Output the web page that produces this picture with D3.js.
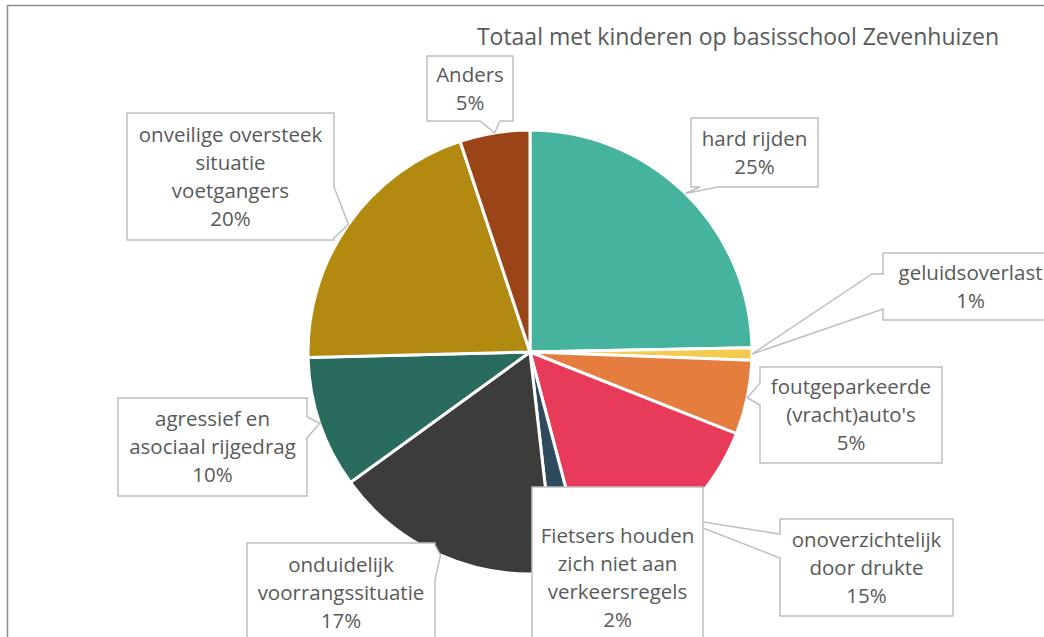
<!DOCTYPE html>
<html>
<head>
<meta charset="utf-8">
<script src="https://cdn.jsdelivr.net/npm/d3@7"></script>
<style>
  body { margin: 0; background: #fff; }
  svg { display: block; }
  text { font-family: "Open Sans", Lato, sans-serif; fill: #595959; }
</style>
</head>
<body>
<div id="chart"></div>
<script>
// Data
const categories = ['hard rijden', 'geluidsoverlast', "foutgeparkeerde (vracht)auto's",
    'onoverzichtelijk door drukte', 'Fietsers houden zich niet aan verkeersregels',
    'onduidelijk voorrangssituatie', 'agressief en asociaal rijgedrag',
    'onveilige oversteek situatie voetgangers', 'Anders'];
const values = [24.7, 0.9, 5.4, 14.9, 2.3, 16.8, 9.6, 20.3, 5.1];
const labelLines = [
    ['hard rijden'],
    ['geluidsoverlast'],
    ['foutgeparkeerde', "(vracht)auto's"],
    ['onoverzichtelijk', 'door drukte'],
    ['Fietsers houden', 'zich niet aan', 'verkeersregels'],
    ['onduidelijk', 'voorrangssituatie'],
    ['agressief en', 'asociaal rijgedrag'],
    ['onveilige oversteek', 'situatie', 'voetgangers'],
    ['Anders']
];
const colors = ['#46B39E', '#F2CB4F', '#E47D3E', '#E83A59', '#2E4A5C',
    '#3C3C3A', '#296B5E', '#B28A10', '#9A4418'];
const title = 'Totaal met kinderen op basisschool Zevenhuizen';

const width = 1044, height = 637;
const cx = 530, cy = 352, radius = 222;

// Label box layout (manual placement, like the original)
const boxes = [
    { x: 691, y: 118, w: 127, h: 69, side: 'bottom', b: [700, 718] },
    { x: 883, y: 253, w: 175, h: 67, side: 'left', b: [274, 309], kink: 11 },
    { x: 760, y: 367, w: 182, h: 96, side: 'left', b: [383, 405] },
    { x: 780, y: 519, w: 173, h: 97, side: 'left', b: [534, 558] },
    { x: 532, y: 487, w: 171, h: 182, side: null },
    { x: 247, y: 543, w: 188, h: 100, side: 'right', b: [545, 580] },
    { x: 118, y: 398, w: 189, h: 98, side: 'right', b: [417, 438] },
    { x: 127, y: 113, w: 207, h: 127, side: 'right', b: [187, 238] },
    { x: 427, y: 56, w: 86, h: 65, side: 'bottom', b: [480, 500] }
];
// draw order so Fietsers box sits on top of the onoverzichtelijk pointer
const drawOrder = [0, 1, 2, 3, 5, 6, 7, 8, 4];

const svg = d3.select('#chart')
    .append('svg')
    .attr('width', width)
    .attr('height', height);

// chart frame
svg.append('path')
    .attr('d', `M7.5,${height + 5} V5.5 H${width + 5}`)
    .style('fill', 'none')
    .style('stroke', '#8c8c8c')
    .style('stroke-width', 1.5);

svg.append('text')
    .attr('x', 738)
    .attr('y', 45)
    .attr('text-anchor', 'middle')
    .style('font-size', '23px')
    .text(title);

const total = d3.sum(values);
const pie = d3.pie().sort(null).value(d => d)(values);
const arc = d3.arc().innerRadius(0).outerRadius(radius);

const g = svg.append('g')
    .attr('transform', `translate(${cx},${cy})`);

g.selectAll('path')
    .data(pie)
    .join('path')
    .attr('d', arc)
    .style('fill', (d, i) => colors[i])
    .style('stroke', '#fff')
    .style('stroke-width', 3);

// Callout labels
const fmt = d3.format('.0%');
const lineH = 28;

drawOrder.forEach(i => {
    const d = pie[i];
    const bx = boxes[i];
    const mid = (d.startAngle + d.endAngle) / 2;
    const tip = [cx + radius * Math.sin(mid), cy - radius * Math.cos(mid)];
    const { x, y, w, h } = bx;
    let pts;
    if (bx.side === 'left') {
        pts = [[x, y], [x + w, y], [x + w, y + h], [x, y + h], [x, bx.b[1]], tip];
        if (bx.kink) pts.push([x - bx.kink, bx.b[0]]);
        pts.push([x, bx.b[0]]);
    } else if (bx.side === 'right') {
        pts = [[x, y], [x + w, y], [x + w, bx.b[0]], tip, [x + w, bx.b[1]], [x + w, y + h], [x, y + h]];
    } else if (bx.side === 'bottom') {
        pts = [[x, y], [x + w, y], [x + w, y + h], [bx.b[1], y + h], tip, [bx.b[0], y + h], [x, y + h]];
    } else {
        pts = [[x, y], [x + w, y], [x + w, y + h], [x, y + h]];
    }

    const lab = svg.append('g').attr('class', 'label');
    lab.append('path')
        .attr('d', 'M' + pts.map(p => p.join(',')).join('L') + 'Z')
        .style('fill', '#fff')
        .style('stroke', '#bfbfbf')
        .style('stroke-width', 1.5)
        .style('stroke-linejoin', 'miter');

    const lines = labelLines[i].concat([fmt(values[i] / total)]);
    const first = y + h / 2 - (lines.length - 1) * lineH / 2 + 7;
    lab.append('text')
        .attr('text-anchor', 'middle')
        .style('font-size', '20.5px')
        .selectAll('tspan')
        .data(lines)
        .join('tspan')
        .attr('x', x + w / 2)
        .attr('y', (t, k) => first + k * lineH)
        .text(t => t);
});
</script>
</body>
</html>
